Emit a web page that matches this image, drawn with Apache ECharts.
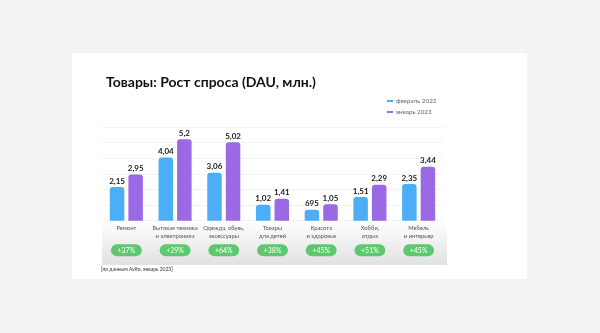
<!DOCTYPE html>
<html><head><meta charset="utf-8">
<script src="https://cdn.jsdelivr.net/npm/echarts@6/dist/echarts.min.js"></script>
<style>html,body{margin:0;padding:0;background:#f3f3f3;}#c{width:600px;height:333px;}</style>
</head><body><div id="c"></div>
<script>
const categories = ['Ремонт','Бытовая техника\nи электроника','Одежда, обувь,\nаксессуары','Товары\nдля детей','Красота\nи здоровье','Хобби,\nотдых','Мебель\nи интерьер'];
const feb2022 = [2.15, 4.04, 3.06, 1.02, 0.695, 1.51, 2.35];
const jan2023 = [2.95, 5.2, 5.02, 1.41, 1.05, 2.29, 3.44];
const febLabels = ['2,15','4,04','3,06','1,02','695','1,51','2,35'];
const janLabels = ['2,95','5,2','5,02','1,41','1,05','2,29','3,44'];
const growth = ['+37%','+29%','+64%','+38%','+45%','+51%','+45%'];
const seriesNames = ['февраль 2022','январь 2023'];
const FONT = 'Lato, "Open Sans", sans-serif';

const chart = echarts.init(document.getElementById('c'));
chart.setOption({
  animation: false,
  textStyle: {fontFamily: FONT},
  title: {
    text: 'Товары: Рост спроса (DAU, млн.)',
    left: 101, top: 70,
    textStyle: {fontSize: 14, fontWeight: 'bold', color: '#111', fontFamily: FONT}
  },
  graphic: [
    {type: 'rect', shape: {x: 72, y: 53, width: 455, height: 226}, style: {fill: '#ffffff'}, z: -10},
    {type: 'rect', shape: {x: 102, y: 220, width: 345, height: 45},
     style: {fill: new echarts.graphic.LinearGradient(0, 0, 0, 1, [{offset: 0, color: '#ffffff'}, {offset: 1, color: '#e1e1e1'}])}, z: -9},
    {type: 'text', left: 101, top: 267, style: {text: '[по данным Avito, январь 2023]', fontSize: 5, fill: '#333', fontFamily: FONT}}
  ],
  legend: {
    data: seriesNames,
    orient: 'vertical',
    left: 382, top: 93,
    icon: 'rect', itemWidth: 6, itemHeight: 2, itemGap: 5,
    textStyle: {fontSize: 6.3, color: '#666', padding: [0,0,0,-2]}
  },
  grid: {left: 102, width: 341, top: 126.8, bottom: 112.3, containLabel: false},
  xAxis: [
    {type: 'category', data: categories, position: 'bottom',
     axisLine: {show: false}, axisTick: {show: false},
     axisLabel: {interval: 0, margin: 4, fontSize: 5.8, lineHeight: 7.7, color: '#555'}},
    {type: 'category', data: growth, position: 'bottom',
     axisLine: {show: false}, axisTick: {show: false},
     axisLabel: {interval: 0, margin: 25.5, formatter: v => '{p|' + v + '}',
       rich: {p: {backgroundColor: '#5dc96e', borderRadius: 6, padding: [3, 6.5, 2, 6.5], color: '#fff', fontSize: 7, lineHeight: 8}}}}
  ],
  yAxis: {type: 'value', min: 0, max: 6, interval: 1,
    axisLabel: {show: false}, axisLine: {show: false}, axisTick: {show: false},
    splitLine: {lineStyle: {color: '#f3f3f3', width: 1}}},
  series: [
    {name: seriesNames[0], type: 'bar', data: feb2022, barWidth: 14.5, barGap: '28%',
     itemStyle: {color: '#4daef8', borderRadius: [3,3,0,0]},
     label: {show: true, position: 'top', distance: 2, fontSize: 8, fontWeight: 'bold', color: '#222',
       formatter: p => febLabels[p.dataIndex]}},
    {name: seriesNames[1], type: 'bar', data: jan2023, barWidth: 14.5,
     itemStyle: {color: '#9b69e4', borderRadius: [3,3,0,0]},
     label: {show: true, position: 'top', distance: 2, fontSize: 8, fontWeight: 'bold', color: '#222',
       formatter: p => janLabels[p.dataIndex]}}
  ]
});
</script></body></html>
